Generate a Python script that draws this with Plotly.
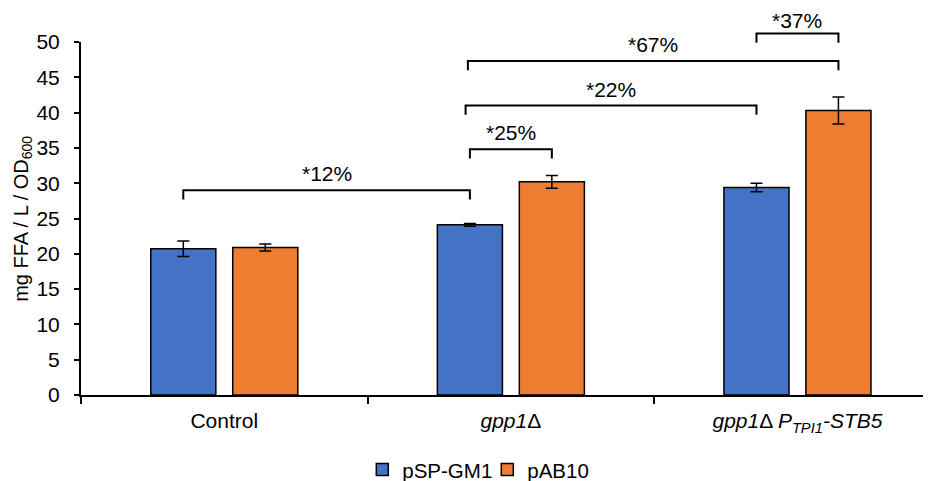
import plotly.graph_objects as go

# ---- data ----
categories = ["Control", "<i>gpp1</i>Δ", "<i>gpp1</i>Δ <i>P</i><sub><i>TPI1</i></sub><i>-STB5</i>"]
series_names = ["pSP-GM1", "pAB10"]
psp_values = [20.7, 24.1, 29.4]
psp_errors = [1.1, 0.2, 0.6]
pab_values = [20.9, 30.2, 40.3]
pab_errors = [0.5, 0.9, 1.9]
y_ticks = [0, 5, 10, 15, 20, 25, 30, 35, 40, 45, 50]
y_max = 50
y_title = "mg FFA / L / OD<sub>600</sub>"

# brackets: (left category, left series, right category, right series, level, label, label level, nudge)
bracket_left_cat = [0, 1, 1, 1, 2]
bracket_left_ser = [0, 0, 0, 0, 0]
bracket_right_cat = [1, 1, 2, 2, 2]
bracket_right_ser = [0, 1, 0, 1, 1]
bracket_levels = [29.0, 34.8, 41.0, 47.3, 51.2]
bracket_labels = ["*12%", "*25%", "*22%", "*67%", "*37%"]
bracket_label_levels = [31.4, 37.25, 43.3, 49.6, 53.1]
bracket_left_nudge = [0.0, 0.0, -0.015, -0.007, 0.0]
bracket_drop = 1.3

colors = ["#4472C4", "#ED7D31"]
BARGAP = 0.428
BARGROUPGAP = 0.206
FONT = "Liberation Sans, Arial, sans-serif"
FS = 21

fig = go.Figure()
for name, vals, errs, col in zip(series_names, [psp_values, pab_values], [psp_errors, pab_errors], colors):
    fig.add_trace(go.Bar(
        x=categories, y=vals, name=name,
        marker=dict(color=col, line=dict(color="black", width=1.5)),
        error_y=dict(type="data", array=errs, color="black", thickness=1.5, width=6),
    ))

slot = (1 - BARGAP) / 2
ser_offset = [-slot / 2, slot / 2]

def to_paper(v):
    return v / y_max

for i in range(len(bracket_labels)):
    x0 = bracket_left_cat[i] + ser_offset[bracket_left_ser[i]] + bracket_left_nudge[i]
    x1 = bracket_right_cat[i] + ser_offset[bracket_right_ser[i]]
    yt = to_paper(bracket_levels[i])
    yd = to_paper(bracket_levels[i] - bracket_drop)
    fig.add_shape(type="path", xref="x", yref="paper",
                  path=f"M {x0},{yd} L {x0},{yt} L {x1},{yt} L {x1},{yd}",
                  line=dict(color="black", width=2))
    fig.add_annotation(x=(x0 + x1) / 2, y=to_paper(bracket_label_levels[i]), xref="x", yref="paper",
                       text=bracket_labels[i], showarrow=False, yanchor="middle",
                       font=dict(size=FS, color="black", family=FONT))

# y-axis title as a rotated annotation for exact placement
fig.add_annotation(x=-0.069, y=0.5, xref="paper", yref="paper", text=y_title,
                   textangle=-90, showarrow=False, xanchor="center", yanchor="middle",
                   font=dict(size=20, color="black", family=FONT))

# page body has an 8px default margin, so the figure is sized to fit the window
fig.update_layout(
    width=923, height=473,
    margin=dict(l=73, r=0, t=34, b=86, autoexpand=False),
    plot_bgcolor="white", paper_bgcolor="white",
    barmode="group", bargap=BARGAP, bargroupgap=BARGROUPGAP,
    font=dict(family=FONT, size=FS, color="black"),
    showlegend=True,
    legend=dict(orientation="h", x=0.478, xanchor="center", y=-0.155, yanchor="top",
                font=dict(size=FS - 0.5, color="black"), itemwidth=30,
                entrywidth=80, entrywidthmode="pixels"),
)
fig.update_xaxes(
    range=[-0.5, 2.466], showline=True, linecolor="black", linewidth=2,
    ticks="outside", tickson="boundaries", ticklen=7, tickwidth=2, tickcolor="black",
    tickfont=dict(size=FS, color="black"), showgrid=False, ticklabelstandoff=6,
    automargin=False,
)
fig.update_yaxes(
    range=[0, y_max], tickvals=y_ticks, showline=True, linecolor="black", linewidth=2,
    ticks="outside", ticklen=5, tickwidth=2, tickcolor="black",
    tickfont=dict(size=FS, color="black"), showgrid=False, zeroline=False,
    ticklabelstandoff=10, automargin=False,
)

fig.write_html("out.html")
